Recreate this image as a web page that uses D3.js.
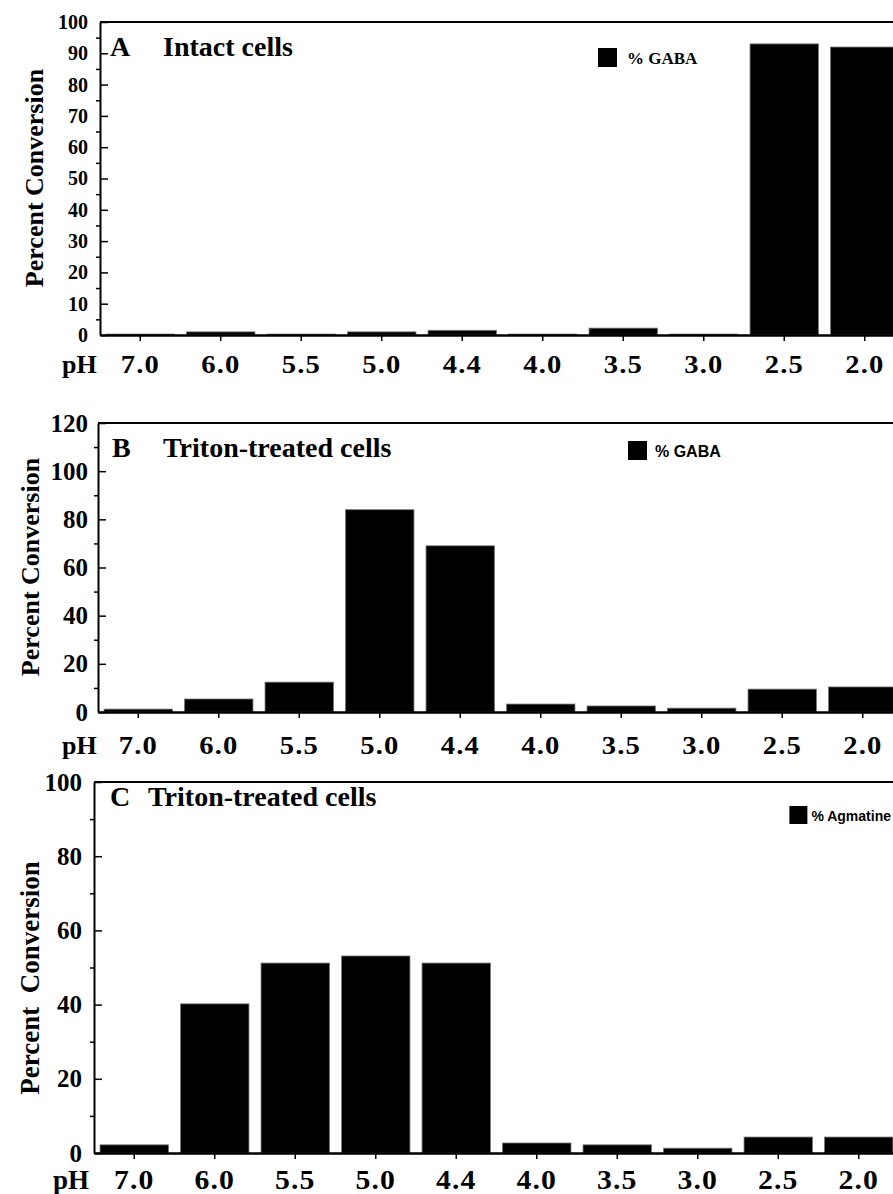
<!DOCTYPE html>
<html lang="en">
<head>
<meta charset="UTF-8">
<title>Percent Conversion vs pH</title>
<style>
    body { margin: 0; background: #fff; }
    svg { display: block; }
    text { font-family: "Liberation Serif", "Times New Roman", serif; font-weight: bold; fill: #000; }
    .sans { font-family: "Liberation Sans", Arial, sans-serif; }
</style>
</head>
<body>
<svg id="chart" width="893" height="1194"></svg>
<script src="https://d3js.org/d3.v7.min.js"></script>
<script>
    // pH categories (x axis), same for all three panels
    const phLabels = ["7.0", "6.0", "5.5", "5.0", "4.4", "4.0", "3.5", "3.0", "2.5", "2.0"];

    // series values
    const gabaIntact = [0.3, 1.0, 0.3, 1.0, 1.5, 0.3, 2.2, 0.3, 93, 92];
    const gabaTriton = [1.2, 5.4, 12.4, 84, 69, 3.3, 2.5, 1.6, 9.5, 10.4];
    const agmatineTriton = [2.2, 40.2, 51.2, 53.1, 51.2, 2.7, 2.2, 1.3, 4.3, 4.3];

    // y tick labels
    const yTicksA = [0, 10, 20, 30, 40, 50, 60, 70, 80, 90, 100];
    const yTicksB = [0, 20, 40, 60, 80, 100, 120];
    const yTicksC = [0, 20, 40, 60, 80, 100];
    const yMinorA = [5, 15, 25, 35, 45, 55, 65, 75, 85, 95];
    const yMinorB = [10, 30, 50, 70, 90, 110];
    const yMinorC = [10, 30, 50, 70, 90];

    const panels = [
        { letter: "A", title: "Intact cells", legend: "% GABA", values: gabaIntact,
          yTicks: yTicksA, yMinor: yMinorA, yMax: 100, yLabel: "Percent Conversion",
          left: 100, top: 22, bottom: 335, tickFont: 20, tickPad: 12,
          xFont: 26, xBase: 373, phX: 62,
          letterPos: [110, 56], titlePos: [163, 56], titleFont: 28,
          legendSq: [598, 48, 19, 19], legendTxt: [627, 64], legendFont: 17, legendSans: false,
          yLabelPos: [43, 178], yLabelFont: 26 },
        { letter: "B", title: "Triton-treated cells", legend: "% GABA", values: gabaTriton,
          yTicks: yTicksB, yMinor: yMinorB, yMax: 120, yLabel: "Percent Conversion",
          left: 98, top: 423, bottom: 712, tickFont: 25, tickPad: 10,
          xFont: 26, xBase: 754, phX: 62,
          letterPos: [112, 457], titlePos: [163, 457], titleFont: 28,
          legendSq: [628, 441, 19, 19], legendTxt: [655, 457], legendFont: 16, legendSans: true,
          yLabelPos: [39, 567], yLabelFont: 26 },
        { letter: "C", title: "Triton-treated cells", legend: "% Agmatine", values: agmatineTriton,
          yTicks: yTicksC, yMinor: yMinorC, yMax: 100, yLabel: "Percent  Conversion",
          left: 94, top: 782, bottom: 1153, tickFont: 25, tickPad: 12,
          xFont: 27, xBase: 1189, phX: 53,
          letterPos: [110, 806], titlePos: [148, 806], titleFont: 28,
          legendSq: null, legendTxt: [891, 821], legendFont: 14, legendSans: true,
          yLabelPos: [39, 978], yLabelFont: 27 }
    ];

    const svg = d3.select("#chart");
    const plotWidth = 805;

    panels.forEach(p => {
        const g = svg.append("g");

        const x = d3.scaleBand()
            .domain(phLabels)
            .range([p.left, p.left + plotWidth])
            .paddingInner(0.15)
            .paddingOuter(0.075);

        const y = d3.scaleLinear()
            .domain([0, p.yMax])
            .range([p.bottom, p.top]);

        // bars
        g.selectAll("rect.bar")
            .data(p.values)
            .enter().append("rect")
            .attr("class", "bar")
            .attr("x", (d, i) => x(phLabels[i]))
            .attr("width", x.bandwidth())
            .attr("y", d => y(d))
            .attr("height", d => y(0) - y(d))
            .style("fill", "#000")
            .style("stroke", "#777")
            .style("stroke-width", 0.8);

        // top frame line
        g.append("line")
            .attr("x1", p.left).attr("x2", p.left + plotWidth)
            .attr("y1", p.top).attr("y2", p.top)
            .style("stroke", "#000").style("stroke-width", 2);

        // x axis
        const xAxis = g.append("g")
            .attr("transform", `translate(0,${p.bottom})`)
            .call(d3.axisBottom(x).tickSizeInner(6).tickSizeOuter(0).tickPadding(10));
        xAxis.select(".domain").style("stroke-width", 2.5);
        xAxis.selectAll(".tick line").style("stroke-width", 1.5);
        xAxis.selectAll(".tick text")
            .attr("y", null).attr("dy", null)
            .attr("transform", `translate(0,${p.xBase - p.bottom}) scale(1.1,1)`)
            .style("font-size", p.xFont + "px")
            .style("letter-spacing", "1px")
            .style("font-family", null);

        g.append("text")
            .attr("x", p.phX).attr("y", p.xBase)
            .style("font-size", p.xFont + "px")
            .text("pH");

        // y axis, major ticks inward
        const yAxis = g.append("g")
            .attr("transform", `translate(${p.left},0)`)
            .call(d3.axisLeft(y).tickValues(p.yTicks).tickSizeInner(-8).tickSizeOuter(0).tickPadding(p.tickPad));
        yAxis.select(".domain").style("stroke-width", 2);
        yAxis.selectAll(".tick line").style("stroke-width", 1.5);
        yAxis.selectAll(".tick text")
            .style("font-size", p.tickFont + "px")
            .style("font-family", null);

        // minor ticks outward
        const yMinor = g.append("g")
            .attr("transform", `translate(${p.left},0)`)
            .call(d3.axisLeft(y).tickValues(p.yMinor).tickSize(4).tickFormat(""));
        yMinor.select(".domain").remove();
        yMinor.selectAll(".tick line").style("stroke-width", 1.5);

        // y label
        g.append("text")
            .attr("transform", `translate(${p.yLabelPos[0]},${p.yLabelPos[1]}) rotate(-90)`)
            .attr("text-anchor", "middle")
            .attr("xml:space", "preserve")
            .style("white-space", "pre")
            .style("font-size", p.yLabelFont + "px")
            .text(p.yLabel);

        // panel title
        g.append("text")
            .attr("x", p.letterPos[0]).attr("y", p.letterPos[1])
            .style("font-size", p.titleFont + "px")
            .text(p.letter);
        g.append("text")
            .attr("x", p.titlePos[0]).attr("y", p.titlePos[1])
            .style("font-size", p.titleFont + "px")
            .text(p.title);

        // legend
        const lt = g.append("text")
            .attr("class", p.legendSans ? "sans" : null)
            .attr("x", p.legendTxt[0]).attr("y", p.legendTxt[1])
            .attr("text-anchor", p.legendSq ? "start" : "end")
            .style("font-size", p.legendFont + "px")
            .text(p.legend);
        let sq = p.legendSq;
        if (!sq) {
            // square placed just left of the right-aligned text
            const bb = lt.node().getBBox();
            sq = [bb.x - 22, p.legendTxt[1] - 15, 18, 18];
        }
        g.append("rect")
            .attr("x", sq[0]).attr("y", sq[1])
            .attr("width", sq[2]).attr("height", sq[3])
            .style("fill", "#000");
    });
</script>
</body>
</html>
